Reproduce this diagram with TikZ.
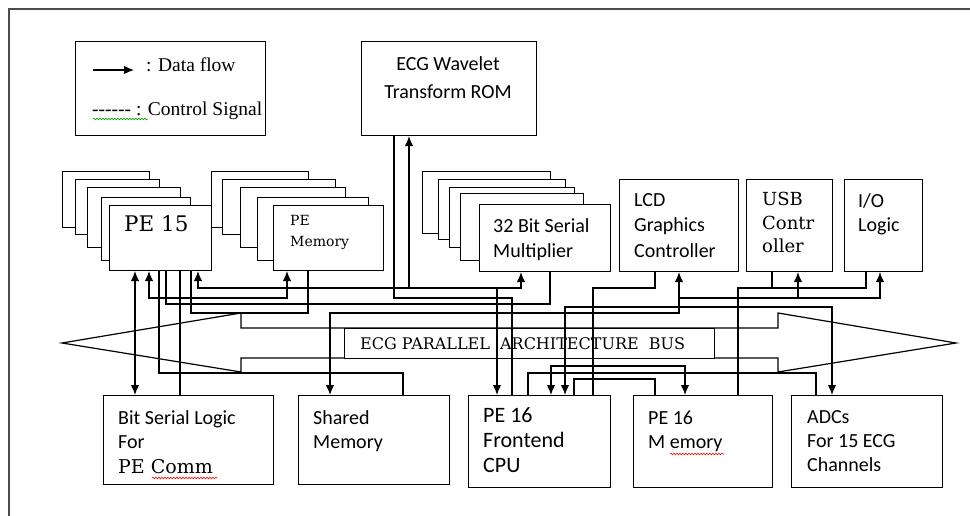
\documentclass[tikz,border=0pt]{standalone}
\usepackage{fontspec}
\setmainfont{Liberation Serif}
\newfontfamily\calibri{Carlito}
\newfontfamily\bookman{DejaVu Serif}
\usepackage{tikz}
\usetikzlibrary{shapes,arrows,arrows.meta,decorations.pathmorphing}
\tikzstyle{block} =
        [
                rectangle,
                draw,
                fill = white,
                % rounded corners,
                line width = 1.1pt,
                inner sep = 0pt,
                anchor = north west
        ]
\tikzstyle{txt} =
        [
                inner sep = 0pt,
                anchor = north west,
                align = left,
                font = \calibri\fontsize{20}{25}\selectfont
        ]
\tikzstyle{wire} =
        [
                draw,
                line width = 1.2pt
        ]
\tikzstyle{line} =
        [
                wire,
                -{Latex[length=10pt,width=8.5pt]}
        ]
\tikzstyle{both} =
        [
                wire,
                {Latex[length=10pt,width=8.5pt]}-{Latex[length=10pt,width=8.5pt]}
        ]
\tikzstyle{squiggle} =
        [
                line width = 0.6pt,
                decorate,
                decoration = {snake, amplitude = 0.8pt, segment length = 3pt}
        ]

\begin{document}
\begin{tikzpicture}[x=1pt, y=-1pt]
    \useasboundingbox (0,0) rectangle (970,516);
    \draw [line width=1.3pt, black!70] (970,9) -- (9,9) -- (9,516);

    % legend
    \node [block, minimum width=190, minimum height=94] (legend) at (75,41) {};
    \coordinate (lga) at (93,70);
    \coordinate (lgb) at (134,70);
    \draw [line] (lga) -- (lgb);
    \node [txt, font=\fontsize{19.5}{22}\selectfont, anchor=base west] (dataflow) at (146,72) {: Data flow};
    \node [txt, font=\fontsize{19.5}{22}\selectfont, anchor=base west] (ctrlsig) at (92,116) {-{}-{}-{}-{}-{}- : Control Signal};
    \draw [squiggle, green!60!black] (93,119) -- (148,119);

    % ROM
    \node [block, minimum width=175, minimum height=94] (ecgrom) at (361,41) {};
    \node [txt, align=center, anchor=north, font=\calibri\fontsize{20}{28}\selectfont] (ecgromt) at (448,56) {ECG Wavelet\\Transform ROM};

    % PE 15 stack
    \node [block, minimum width=87, minimum height=56] (pe15a) at (62,171) {};
    \node [block, minimum width=84, minimum height=55] (pe15b) at (75,179) {};
    \node [block, minimum width=93, minimum height=60] (pe15c) at (87,187) {};
    \node [block, minimum width=89, minimum height=63] (pe15d) at (101,197) {};
    \node [block, minimum width=102, minimum height=65] (pe15) at (109,205) {};
    \node [txt, anchor=base west, font=\bookman\fontsize{21.5}{25}\selectfont] (pe15t) at (124,232) {PE 15};

    % PE memory stack
    \node [block, minimum width=97, minimum height=56] (pemema) at (211,171) {};
    \node [block, minimum width=113, minimum height=55] (pememb) at (222,179) {};
    \node [block, minimum width=105, minimum height=60] (pememc) at (240,187) {};
    \node [block, minimum width=111, minimum height=63] (pememd) at (257,197) {};
    \node [block, minimum width=110, minimum height=65] (pemem) at (273,205) {};
    \node [txt, font=\bookman\fontsize{14}{21}\selectfont] (pememt) at (290,215) {PE\\Memory};

    % multiplier stack
    \node [block, minimum width=128, minimum height=62] (multa) at (422,171) {};
    \node [block, minimum width=127, minimum height=60] (multb) at (438,179) {};
    \node [block, minimum width=125, minimum height=60] (multc) at (449,187) {};
    \node [block, minimum width=123, minimum height=67] (multd) at (460,193) {};
    \node [block, minimum width=131, minimum height=67] (mult) at (479,204) {};
    \node [txt] (multt) at (493,218) {32 Bit Serial\\Multiplier};

    % controllers
    \node [block, minimum width=119, minimum height=92] (lcd) at (619,179) {};
    \node [txt, font=\calibri\fontsize{20}{25.5}\selectfont] (lcdt) at (634,193) {LCD\\Graphics\\Controller};
    \node [block, minimum width=86, minimum height=92] (usb) at (746,179) {};
    \node [txt, font=\bookman\fontsize{18}{23.5}\selectfont] (usbt) at (762,192) {USB\\Contr\\oller};
    \node [block, minimum width=78, minimum height=92] (iologic) at (844,179) {};
    \node [txt, font=\calibri\fontsize{20}{24}\selectfont] (iologict) at (858,193) {I/O\\Logic};

    % bottom row
    \node [block, minimum width=170, minimum height=89] (bitser) at (103,395) {};
    \node [txt, font=\calibri\fontsize{20}{24.5}\selectfont] (bitsert) at (118,410) {Bit Serial Logic\\For\\{\bookman\fontsize{19}{24.5}\selectfont PE Comm}};
    \draw [squiggle, red] (152,478) -- (217,478);
    \node [block, minimum width=151, minimum height=89] (shmem) at (298,395) {};
    \node [txt, font=\calibri\fontsize{20}{24.5}\selectfont] (shmemt) at (313,410) {Shared\\Memory};
    \node [block, minimum width=142, minimum height=92] (pe16cpu) at (468,395) {};
    \node [txt, font=\calibri\fontsize{22}{25}\selectfont] (pe16cput) at (483,407) {PE 16\\Frontend\\CPU};
    \node [block, minimum width=139, minimum height=92] (pe16mem) at (633,395) {};
    \node [txt, font=\calibri\fontsize{20}{24}\selectfont] (pe16memt) at (648,411) {PE 16\\M emory};
    \draw [squiggle, red] (670,454) -- (724,454);
    \node [block, minimum width=151, minimum height=92] (adcs) at (791,395) {};
    \node [txt, font=\calibri\fontsize{20}{24}\selectfont] (adcst) at (807,410) {ADCs\\For 15 ECG\\Channels};

    % bus
    \draw [wire] (62,343) -- (241,313) -- (241,328) -- (778,328) -- (778,313) -- (956,343)
        -- (778,372) -- (778,358) -- (241,358) -- (241,372) -- cycle;
    \node [block, minimum width=370, minimum height=30] (busl) at (344,328) {};
    \node [txt, anchor=west, font=\bookman\fontsize{16}{20}\selectfont] (bust) at (360,343.5) {ECG PARALLEL\ \ ARCHITECTURE\ \ BUS};

    % connections
    \draw [both] (135,0 |- pe15.south) -- (135,0 |- bitser.north);
    \draw [both] (149,0 |- pe15.south) |- (287,298) -- (287,0 |- pemem.south);
    \draw [wire] (159,0 |- pe15.south) |- (403,373) -- (403,0 |- shmem.north);
    \draw [wire] (166,0 |- pe15.south) |- (550,304) -- (550,0 |- mult.south);
    \draw [wire] (180,0 |- pe15.south) -- (180,0 |- bitser.north);
    \draw [wire] (191,0 |- pe15.south) |- (308,313) -- (308,0 |- pemem.south);
    \draw [both] (198,0 |- pe15.south) |- (521,288) -- (521,0 |- mult.south);
    \draw [line] (409,288) -- (409,0 |- ecgrom.south);
    \draw [line] (497,288) -- (497,0 |- pe16cpu.north);
    \draw [wire] (394,0 |- ecgrom.south) |- (512,298) -- (512,0 |- pe16cpu.north);
    \draw [both] (330,0 |- shmem.north) |- (679,313) -- (679,0 |- lcd.south);
    \draw [line] (679,298) -| (880,0 |- iologic.south);
    \draw [line] (798,298) -- (798,0 |- usb.south);
    \draw [both] (565,0 |- pe16cpu.north) |- (832,307) -- (832,0 |- adcs.north);
    \draw [wire] (655,0 |- lcd.south) |- (593,288) -- (593,0 |- pe16cpu.north);
    \draw [wire] (772,0 |- usb.south) |- (866,288) -- (866,0 |- iologic.south);
    \draw [wire] (772,288) -| (738,0 |- pe16mem.north);
    \draw [wire] (528,0 |- pe16cpu.north) |- (816,373) -- (816,0 |- adcs.north);
    \draw [both] (551,0 |- pe16cpu.north) |- (685,366) -- (685,0 |- pe16mem.north);
    \draw [wire] (574,0 |- pe16cpu.north) |- (655,379) -- (655,0 |- pe16mem.north);
\end{tikzpicture}
\end{document}
